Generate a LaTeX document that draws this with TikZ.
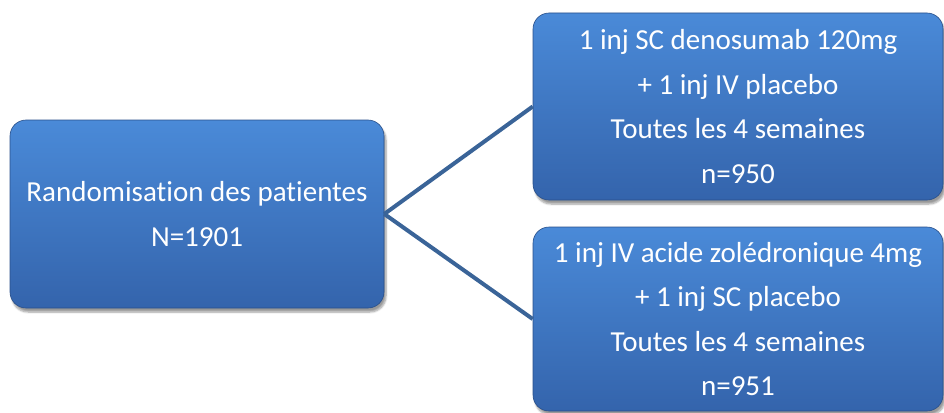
\documentclass[tikz,border=0pt]{standalone}
\usepackage{fontspec}
\setmainfont{Carlito}[Ligatures={NoCommon}]
\usetikzlibrary{shadows.blur}
\definecolor{boxtop}{RGB}{74,138,216}
\definecolor{boxbot}{RGB}{52,100,172}
\definecolor{linkc}{RGB}{58,100,152}
\tikzset{
  boxnode/.style={rectangle, rounded corners=16pt, draw=boxbot!80!black, line width=0.6pt,
    top color=boxtop, bottom color=boxbot, text=white, align=center,
    font=\fontsize{29}{44.5}\selectfont, inner sep=0pt,
    blur shadow={shadow xshift=2pt, shadow yshift=-4pt, shadow blur steps=6, shadow opacity=40}},
  link/.style={draw=linkc, line width=4pt}
}
\begin{document}
\begin{tikzpicture}[x=1pt,y=-1pt]
\useasboundingbox (0,0) rectangle (944,412);
\node[boxnode, minimum width=374pt, minimum height=188pt] (rand) at (197,214)
  {Randomisation des patientes\\N=1901};
\node[boxnode, minimum width=410pt, minimum height=187pt] (deno) at (738,106.5)
  {1 inj SC denosumab 120mg\\+ 1 inj IV placebo\\Toutes les 4 semaines\\n=950};
\node[boxnode, minimum width=410pt, minimum height=184pt] (zol) at (738,319)
  {1 inj IV acide zolédronique 4mg\\+ 1 inj SC placebo\\Toutes les 4 semaines\\n=951};
\draw[link] (rand.east) -- (deno.west);
\draw[link] (rand.east) -- (zol.west);
\end{tikzpicture}
\end{document}
